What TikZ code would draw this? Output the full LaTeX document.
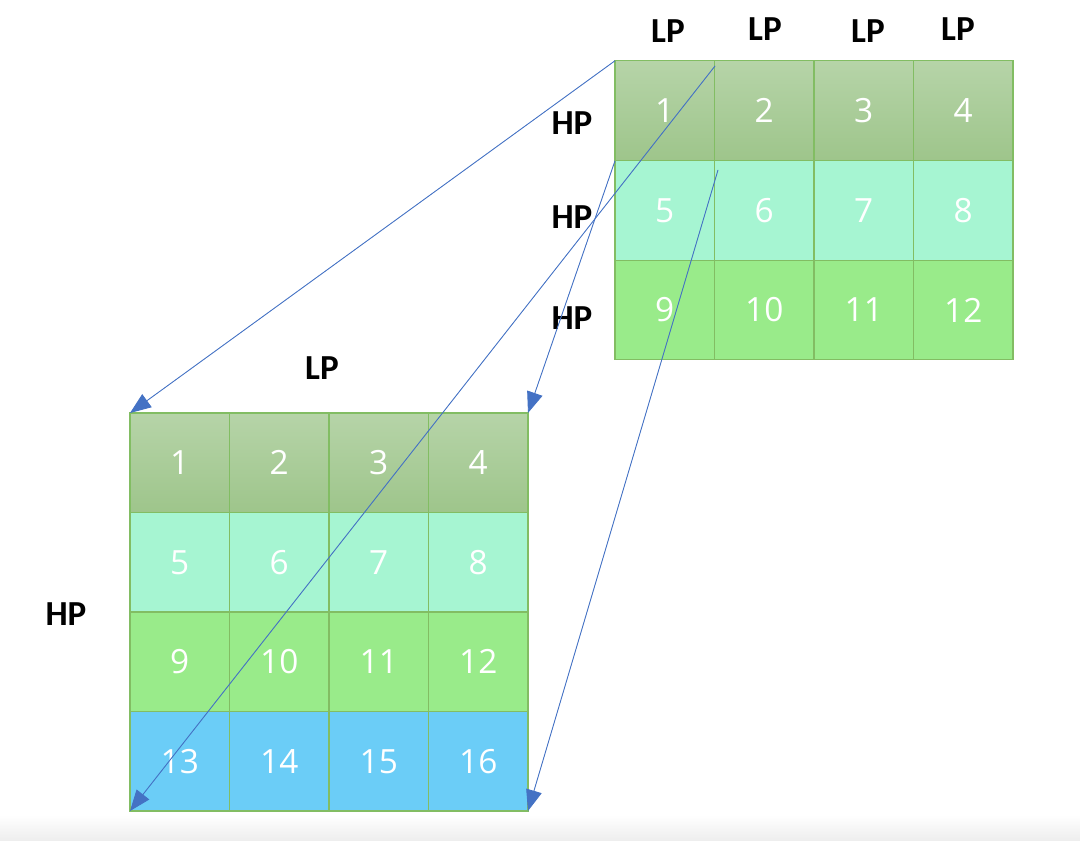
\documentclass[tikz,border=0pt]{standalone}
\usepackage{fontspec}
\usepackage{tikz}
\usetikzlibrary{arrows.meta}
\newfontfamily\lblfont{Carlito}
\newfontfamily\numfont{Open Sans}
\definecolor{cellline}{HTML}{82BD63}
\definecolor{rowa}{HTML}{B6D4A8}
\definecolor{rowab}{HTML}{9EC58B}
\definecolor{rowb}{HTML}{A6F5D2}
\definecolor{rowc}{HTML}{99EB8A}
\definecolor{rowd}{HTML}{6BCDF7}
\definecolor{arrblue}{HTML}{4472C4}

\begin{document}
\begin{tikzpicture}[
  x=0.02cm, y=-0.02cm,
  cell/.style={rectangle, draw=cellline, line width=0.6pt, minimum width=1.99cm, minimum height=1.99cm, inner sep=0pt, outer sep=0pt, text=white, font=\numfont\fontsize{19}{21}\selectfont},
  hdr/.style={cell, top color=rowa, bottom color=rowab},
  lbl/.style={font=\lblfont\bfseries\fontsize{20}{22}\selectfont},
  arr/.style={-{Triangle[length=0.42cm, width=0.32cm]}, draw=arrblue, fill=arrblue, line width=0.5pt},
]
\useasboundingbox (0,0) rectangle (1080,841);
\shade[top color=white, bottom color=black!7] (0,815) rectangle (1080,841);

% top grid
\foreach \c [count=\i] in {664.75, 764.25, 863.75, 963.25} {
  \node[hdr]            (t\i)  at (\c,110.5) {\i};
}
\foreach \c [count=\i from 5] in {664.75, 764.25, 863.75, 963.25} {
  \node[cell, fill=rowb] (t\i) at (\c,210.5) {\i};
}
\foreach \c [count=\i from 9] in {664.75, 764.25, 863.75, 963.25} {
  \node[cell, fill=rowc] (t\i) at (\c,310) {\i};
}

% bottom grid
\foreach \c [count=\i] in {179.75, 279.25, 378.75, 478.25} {
  \node[hdr]            (b\i)  at (\c,462.75) {\i};
}
\foreach \c [count=\i from 5] in {179.75, 279.25, 378.75, 478.25} {
  \node[cell, fill=rowb] (b\i) at (\c,562.25) {\i};
}
\foreach \c [count=\i from 9] in {179.75, 279.25, 378.75, 478.25} {
  \node[cell, fill=rowc] (b\i) at (\c,661.75) {\i};
}
\foreach \c [count=\i from 13] in {179.75, 279.25, 378.75, 478.25} {
  \node[cell, fill=rowd] (b\i) at (\c,761.25) {\i};
}

\node[lbl] (lp1) at (668,31) {LP};
\node[lbl] (lp2) at (765,29) {LP};
\node[lbl] (lp3) at (868,31) {LP};
\node[lbl] (lp4) at (958,29) {LP};
\node[lbl] (hp1) at (572,123) {HP};
\node[lbl] (hp2) at (572,217) {HP};
\node[lbl] (hp3) at (572,318) {HP};
\node[lbl] (lp5) at (322,368) {LP};
\node[lbl] (hp4) at (66,614)  {HP};

\coordinate (s2) at (715,66);
\coordinate (s4) at (718,170);

\draw[arr] (t1.north west) -- (b1.north west);
\draw[arr] (s2) -- (b13.south west);
\draw[arr] (t5.north west) -- (b4.north east);
\draw[arr] (s4) -- (b16.south east);
\end{tikzpicture}
\end{document}
